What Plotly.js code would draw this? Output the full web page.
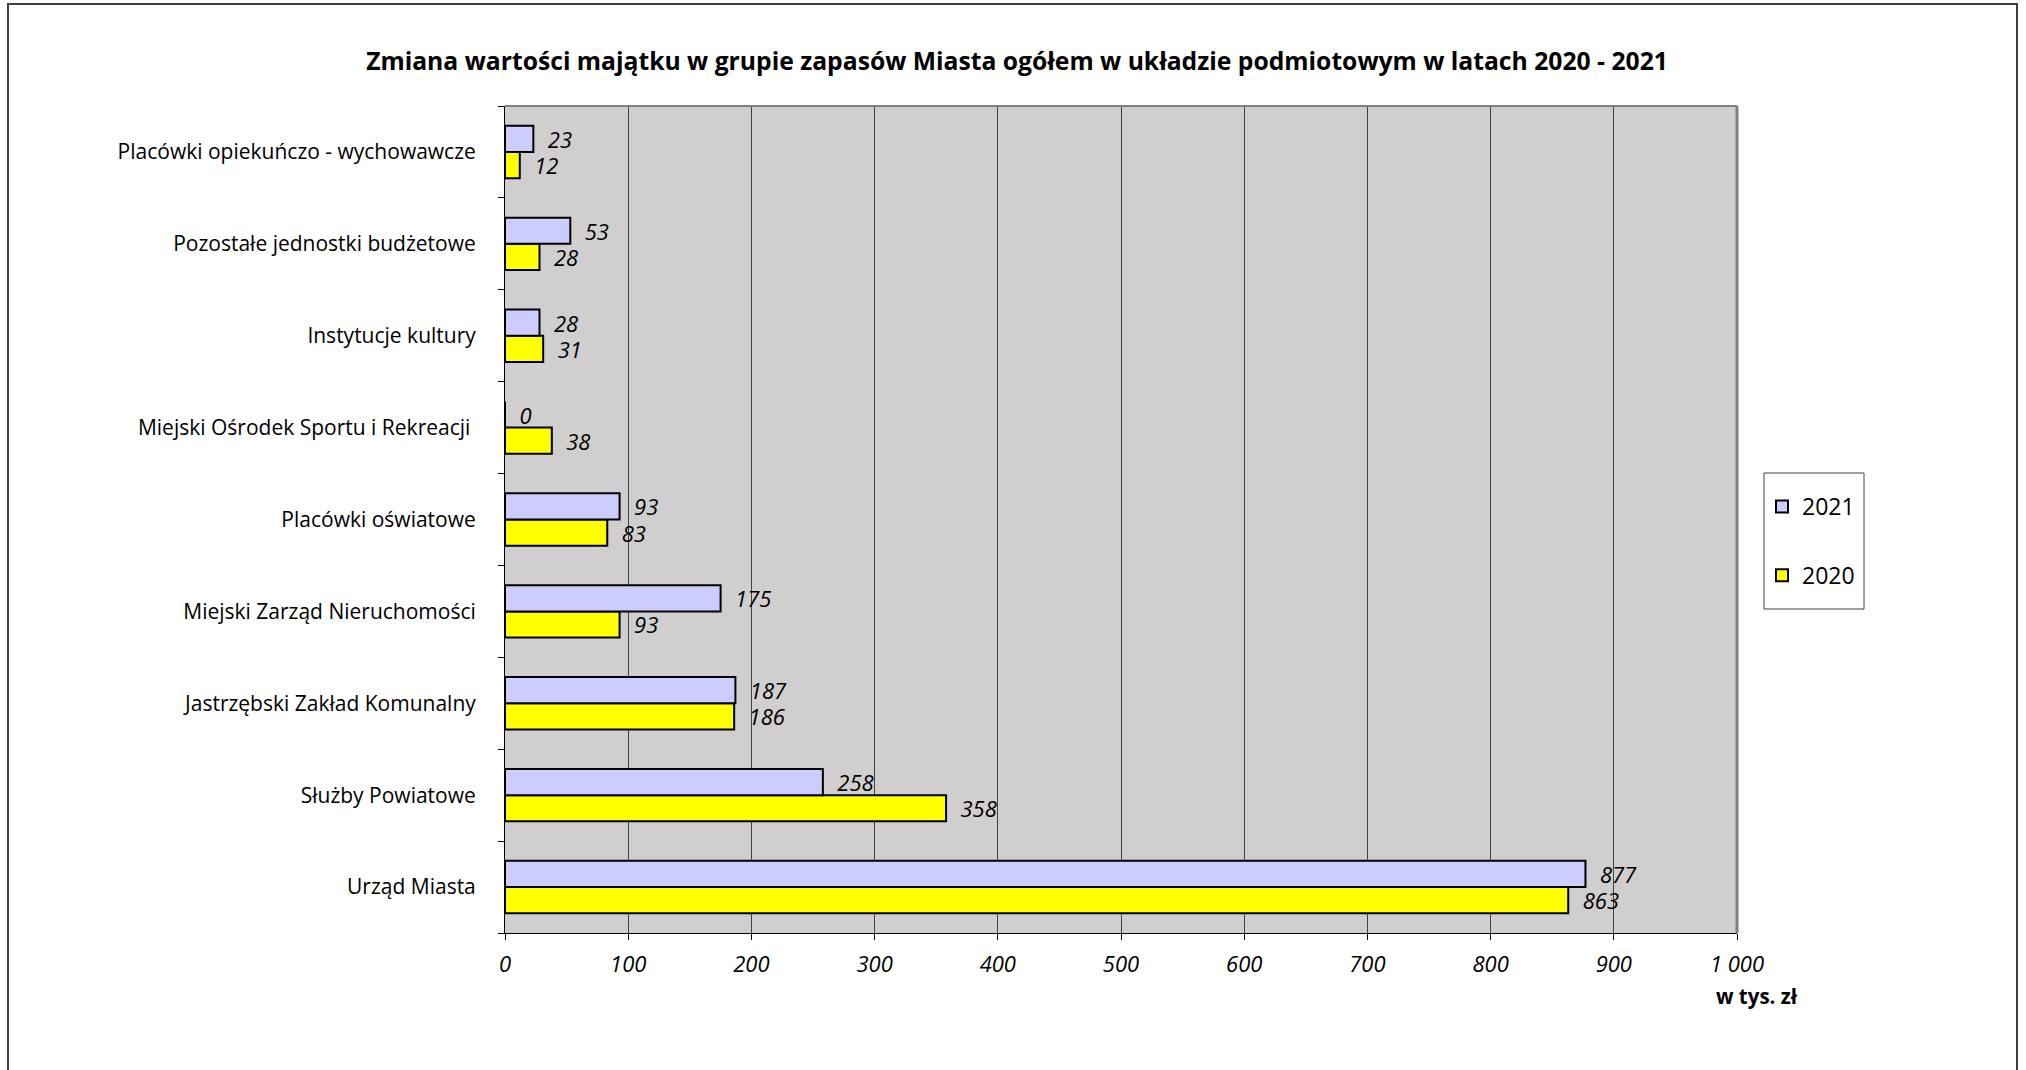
<!DOCTYPE html>
<html>
<head>
<meta charset="utf-8">
<script src="https://cdn.plot.ly/plotly-3.0.1.min.js"></script>
<style>html,body{margin:0;padding:0;background:#fff;}#chart{width:2026px;height:1070px;}</style>
</head>
<body>
<div id="chart"></div>
<script>
const categories = [
  "Urząd Miasta",
  "Służby Powiatowe",
  "Jastrzębski Zakład Komunalny",
  "Miejski Zarząd Nieruchomości",
  "Placówki oświatowe",
  "Miejski Ośrodek Sportu i Rekreacji ",
  "Instytucje kultury",
  "Pozostałe jednostki budżetowe",
  "Placówki opiekuńczo - wychowawcze"
];
const values2021 = [877, 258, 187, 175, 93, 0, 28, 53, 23];
const values2020 = [863, 358, 186, 93, 83, 38, 31, 28, 12];
const xTickVals = [0, 100, 200, 300, 400, 500, 600, 700, 800, 900, 1000];
const xTickText = ["0", "100", "200", "300", "400", "500", "600", "700", "800", "900", "1 000"];

const FONT = "Open Sans, Noto Sans, Liberation Sans, sans-serif";
const labelFont = {family: FONT, size: 21, color: "#000"};
const pad = "\u00a0\u00a0";

const trace2020 = {
  type: "bar", orientation: "h", name: "2020",
  y: categories, x: values2020,
  marker: {color: "#FFFF00", line: {color: "#000", width: 2}},
  text: values2020.map(v => pad + v), textposition: "outside", cliponaxis: false,
  constraintext: "none",
  textfont: {family: FONT, size: 22, color: "#000", style: "italic"},
  legendgroup: "g2020", legendrank: 2, hoverinfo: "x"
};
const trace2021 = {
  type: "bar", orientation: "h", name: "2021",
  y: categories, x: values2021,
  marker: {color: "#CCCCFF", line: {color: "#000", width: 2}},
  text: values2021.map(v => pad + v), textposition: "outside", cliponaxis: false,
  constraintext: "none",
  textfont: {family: FONT, size: 22, color: "#000", style: "italic"},
  legendgroup: "g2021", legendrank: 1, hoverinfo: "x"
};

const L = 505, R = 1737, T = 106, B = 933, W = 2026, H = 1070;
const pw = R - L, ph = B - T;
const px = v => (v - L) / pw;
const py = v => (B - v) / ph;

const layout = {
  width: W, height: H,
  margin: {l: L, r: W - R, t: T, b: H - B, pad: 0},
  paper_bgcolor: "#fff",
  plot_bgcolor: "#D0CECE",
  barmode: "group",
  bargap: 0.43,
  bargroupgap: 0,
  showlegend: true,
  uniformtext: {mode: false},
  title: {
    text: "<b>Zmiana wartości majątku w grupie zapasów Miasta ogółem w układzie podmiotowym w latach 2020 - 2021</b>",
    font: {family: FONT, size: 24.7, color: "#000"},
    x: 1017 / W, xanchor: "center", y: 1 - 61 / H, yanchor: "middle"
  },
  xaxis: {
    range: [0, 1000], tickvals: xTickVals, ticktext: xTickText,
    tickfont: {family: FONT, size: 22, color: "#000", style: "italic"},
    showgrid: true, gridcolor: "#404040", gridwidth: 1,
    showline: true, linecolor: "#000", linewidth: 1,
    ticks: "outside", ticklen: 6, tickcolor: "#000",
    ticklabelstandoff: 6,
    zeroline: false, fixedrange: true
  },
  yaxis: {
    type: "category",
    tickfont: labelFont,
    showline: true, linecolor: "#000", linewidth: 1,
    ticks: "outside", ticklen: 6, tickcolor: "#000", tickson: "boundaries",
    showgrid: false, zeroline: false, fixedrange: true,
    ticklabelstandoff: 24
  },
  legend: {
    x: px(1762), xanchor: "left", y: py(485), yanchor: "top",
    bgcolor: "rgba(0,0,0,0)", borderwidth: 0,
    font: {family: FONT, size: 23, color: "#000"},
    traceorder: "grouped", tracegroupgap: 36,
    itemwidth: 30
  },
  shapes: [
    {type: "rect", xref: "paper", yref: "paper", x0: px(8), x1: px(2017), y0: py(1080), y1: py(4),
     line: {color: "#404040", width: 2}, fillcolor: "rgba(0,0,0,0)", layer: "below"},
    {type: "rect", xref: "paper", yref: "paper", x0: px(1764), x1: px(1864), y0: py(609), y1: py(473),
     line: {color: "#404040", width: 1}, fillcolor: "#fff", layer: "below"},
    {type: "line", xref: "paper", yref: "paper", x0: 0, x1: 1, y0: 1, y1: 1,
     line: {color: "#808080", width: 2}},
    {type: "line", xref: "paper", yref: "paper", x0: 1, x1: 1, y0: 0, y1: 1,
     line: {color: "#808080", width: 3}}
  ],
  annotations: [
    {text: "<b>w tys. zł</b>", xref: "paper", yref: "paper", x: px(1757), y: py(996),
     xanchor: "center", yanchor: "middle", showarrow: false,
     font: {family: FONT, size: 20.5, color: "#000"}}
  ]
};

Plotly.newPlot("chart", [trace2020, trace2021], layout, {displayModeBar: false, staticPlot: true});
</script>
</body>
</html>
